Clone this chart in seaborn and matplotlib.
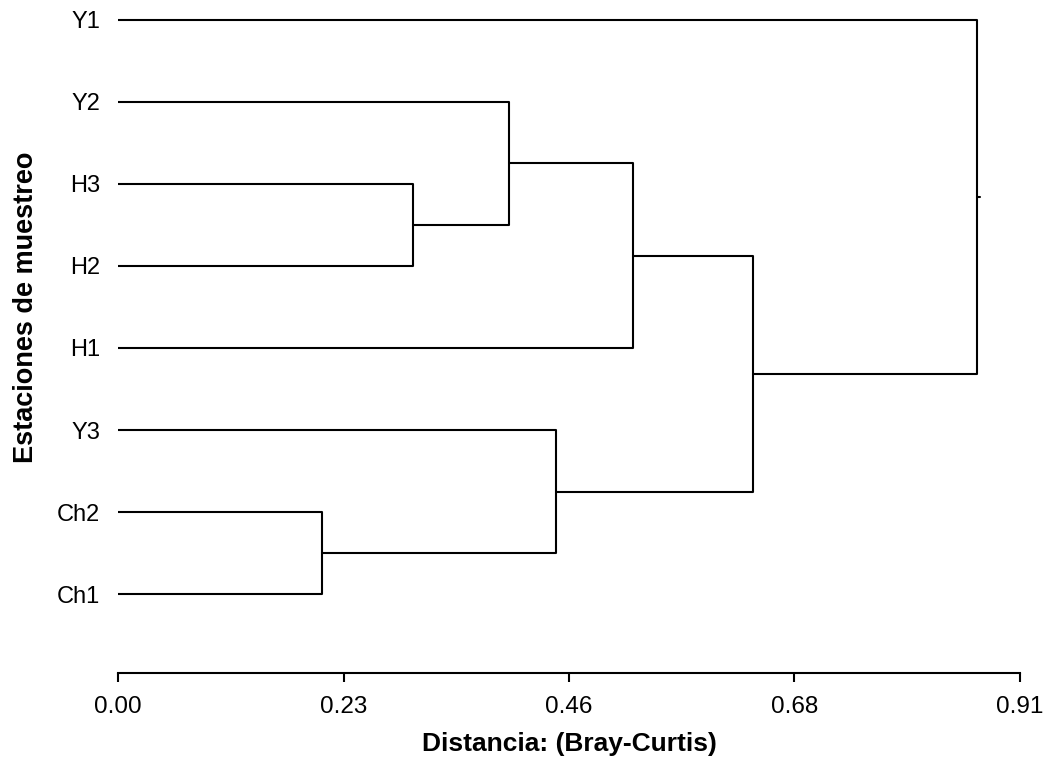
import pandas as pd
import seaborn as sns
import matplotlib
matplotlib.use("Agg")
import matplotlib.pyplot as plt

# leaves in display order, top to bottom
leaves = ["Y1", "Y2", "H3", "H2", "H1", "Y3", "Ch2", "Ch1"]

# merges (scipy-like): new cluster ids start at len(leaves)
merge_a = [6, 2, 1, 5, 10, 12, 0]
merge_b = [7, 3, 9, 8, 4, 11, 13]
heights = [0.206, 0.298, 0.394, 0.442, 0.520, 0.641, 0.867]

ticks = [0.0, 0.2275, 0.455, 0.6825, 0.91]
tick_labels = ["0.00", "0.23", "0.46", "0.68", "0.91"]

sns.set_style("white")
plt.rcParams['font.family'] = ['Liberation Sans', 'DejaVu Sans']
plt.rcParams['text.color'] = 'black'
plt.rcParams['axes.labelcolor'] = 'black'
plt.rcParams['xtick.color'] = 'black'
plt.rcParams['ytick.color'] = 'black'

# build U-shaped links
pos = {i: float(i) for i in range(len(leaves))}
hgt = {i: 0.0 for i in range(len(leaves))}
rows = []
for k, (a, b, h) in enumerate(zip(merge_a, merge_b, heights)):
    cid = len(leaves) + k
    pts = [(hgt[a], pos[a]), (h, pos[a]), (h, pos[b]), (hgt[b], pos[b])]
    for x, y in pts:
        rows.append({"link": k, "x": x, "y": y})
    pos[cid] = (pos[a] + pos[b]) / 2
    hgt[cid] = h
# small stub above the root
root = len(leaves) + len(heights) - 1
rows.append({"link": 99, "x": hgt[root], "y": pos[root]})
rows.append({"link": 99, "x": hgt[root] + 0.003, "y": pos[root]})
df = pd.DataFrame(rows)

fig = plt.figure(figsize=(10.5, 7.62), dpi=100)
ax = fig.add_axes([118 / 1050, 1 - 673 / 762, 902 / 1050, 673 / 762])
sns.lineplot(data=df, x="x", y="y", units="link", estimator=None,
             sort=False, color="black", linewidth=1.5, ax=ax)

ax.set_xlim(0, 0.91)
ax.set_ylim(7.96, -0.24)
ax.set_xticks(ticks)
ax.set_xticklabels(tick_labels)
ax.set_yticks(range(len(leaves)))
ax.set_yticklabels(leaves)
for s in ["top", "right", "left"]:
    ax.spines[s].set_visible(False)
ax.spines["bottom"].set_linewidth(1.5)
ax.spines["bottom"].set_color("black")
ax.tick_params(axis="x", direction="out", length=6.5, width=1.5,
               labelsize=17.5, pad=10, bottom=True)
ax.tick_params(axis="y", length=0, labelsize=17, pad=13)
ax.set_xlabel("Distancia: (Bray-Curtis)", fontsize=19, fontweight="bold", labelpad=10)
ax.set_ylabel("Estaciones de muestreo", fontsize=19.5, fontweight="bold")
ax.yaxis.set_label_coords(-0.088, 0.544)

fig.savefig("out.png", dpi=100)
